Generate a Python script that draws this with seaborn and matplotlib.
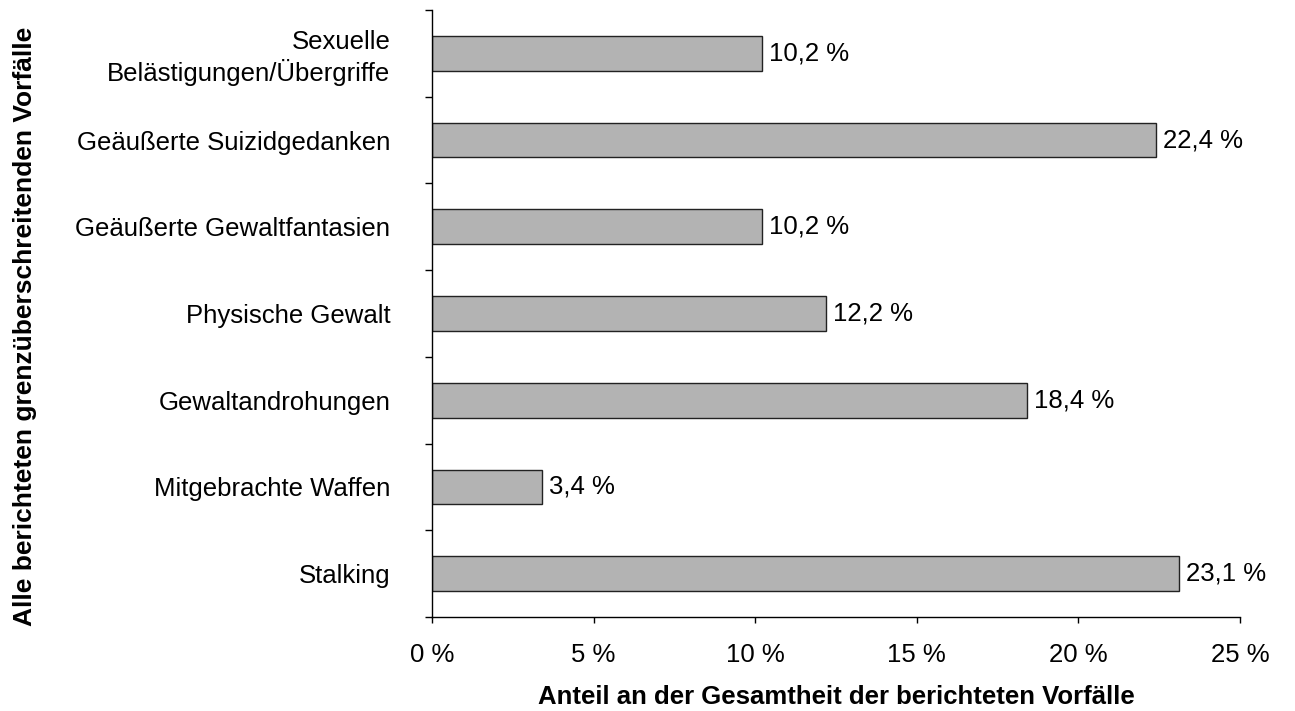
import numpy as np
import pandas as pd
import seaborn as sns
import matplotlib.pyplot as plt
from matplotlib.ticker import FixedLocator, FuncFormatter

categories = ["Sexuelle\nBelästigungen/Übergriffe", "Geäußerte Suizidgedanken",
              "Geäußerte Gewaltfantasien", "Physische Gewalt", "Gewaltandrohungen",
              "Mitgebrachte Waffen", "Stalking"]
values = [10.2, 22.4, 10.2, 12.2, 18.4, 3.4, 23.1]

df = pd.DataFrame({"cat": categories, "val": values})

sns.set_style("white")
plt.rcParams['font.family'] = ['Liberation Sans', 'DejaVu Sans']
plt.rcParams['text.color'] = 'black'
plt.rcParams['xtick.color'] = 'black'
plt.rcParams['ytick.color'] = 'black'
plt.rcParams['axes.labelcolor'] = 'black'

FS = 18.5

fig = plt.figure(figsize=(12.95, 7.11), dpi=100)
ax = fig.add_axes([0.3336, 0.1322, 0.9575 - 0.3336, 0.986 - 0.1322])

sns.barplot(data=df, x="val", y="cat", orient="h", color="#b3b3b3",
            saturation=1, edgecolor="#222222", linewidth=1, width=0.4, ax=ax)

# value labels next to the bars
for i, v in enumerate(values):
    ax.text(v + 0.22, i, f"{v:.1f} %".replace(".", ","), va="center", ha="left", fontsize=FS)

ax.set_xlim(0, 25)
ax.set_ylim(6.5, -0.5)
ax.set_xticks(np.arange(0, 26, 5))
ax.xaxis.set_major_formatter(FuncFormatter(lambda x, p: f"{x:.0f} %"))
ax.yaxis.set_minor_locator(FixedLocator(np.arange(-0.5, 7, 1)))

for s in ["top", "right"]:
    ax.spines[s].set_visible(False)
for s in ["left", "bottom"]:
    ax.spines[s].set_color("black")
    ax.spines[s].set_linewidth(1)

ax.tick_params(axis="y", which="major", length=0, pad=30, labelsize=FS)
ax.tick_params(axis="y", which="minor", length=5, width=1, color="black", left=True)
ax.tick_params(axis="x", which="major", length=4, width=1, color="black", bottom=True,
               pad=15, labelsize=FS)

ax.set_xlabel("Anteil an der Gesamtheit der berichteten Vorfälle", fontsize=FS,
              fontweight="bold", labelpad=13)
ax.set_ylabel("Alle berichteten grenzüberschreitenden Vorfälle", fontsize=19,
              fontweight="bold")
ax.yaxis.set_label_coords(37 / 1295, 1 - 326 / 711, transform=fig.transFigure)

fig.savefig("out.png", dpi=100)
